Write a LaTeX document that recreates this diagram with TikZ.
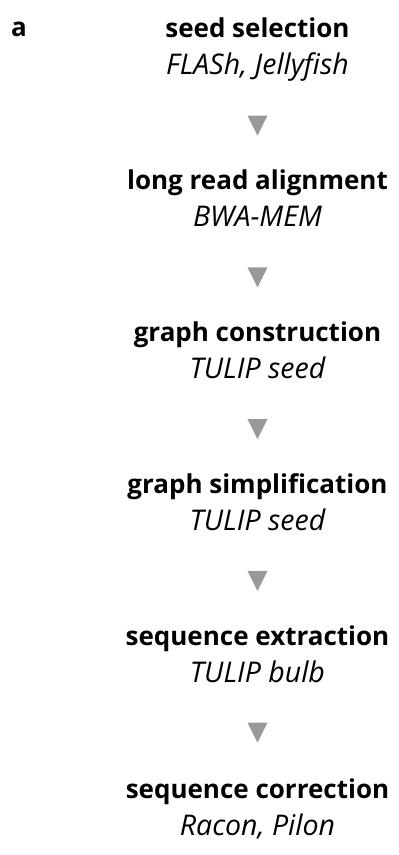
\documentclass[tikz,border=0pt]{standalone}
\usepackage{fontspec}
\setmainfont{Open Sans}
\begin{document}
\begin{tikzpicture}[x=1pt,y=-1pt,
  steptitle/.style={anchor=base,inner sep=0pt,font=\fontsize{26}{30}\selectfont\bfseries},
  steptool/.style={anchor=base,inner sep=0pt,font=\fontsize{28.5}{32}\selectfont\itshape},
  flowtip/.style={fill=black!40,draw=none}]
\useasboundingbox (0,0) rectangle (399,855);
\node[steptitle,anchor=base west] (panel) at (11,36) {a};
\foreach \i/\title/\tool in {
  0/seed selection/{FLASh, Jellyfish},
  1/long read alignment/BWA-MEM,
  2/graph construction/TULIP seed,
  3/graph simplification/TULIP seed,
  4/sequence extraction/TULIP bulb,
  5/sequence correction/{Racon, Pilon}}{
  \node[steptitle] (title\i) at (257.5,37+152.2*\i) {\title};
  \node[steptool] (tool\i) at (257.5,74+152.2*\i) {\tool};
}
% downward triangles between consecutive steps
\foreach \i in {0,...,4}{
  \coordinate (tip\i) at (257.5,135.5+151.8*\i);
  \fill[flowtip] (tip\i) -- ++(-10,-20) -- ++(20,0) -- cycle;
}
\end{tikzpicture}
\end{document}
